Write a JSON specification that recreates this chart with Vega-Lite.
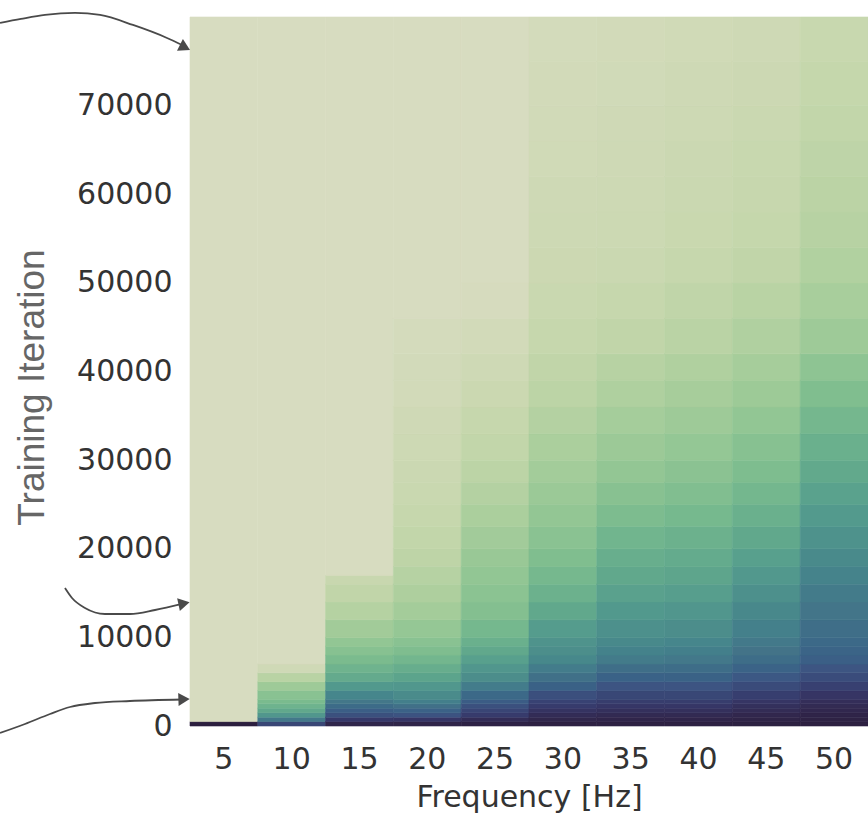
{
  "$schema": "https://vega.github.io/schema/vega-lite/v6.json",
  "width": 678,
  "height": 709,
  "autosize": {"type": "none"},
  "padding": {"left": 190, "top": 17, "right": 0, "bottom": 91},
  "background": "white",
  "config": {"view": {"stroke": null}},
  "datasets": {
    "heat": [
      {"f":5,"a":0,"b":500,"v":1.0},{"f":5,"a":500,"b":80000,"v":0},
      {"f":10,"a":0,"b":500,"v":0.85},{"f":10,"a":500,"b":1000,"v":0.68},{"f":10,"a":1000,"b":1500,"v":0.56},{"f":10,"a":1500,"b":2000,"v":0.49},{"f":10,"a":2000,"b":2500,"v":0.44},{"f":10,"a":2500,"b":3000,"v":0.4},{"f":10,"a":3000,"b":4000,"v":0.345},{"f":10,"a":4000,"b":5000,"v":0.265},{"f":10,"a":5000,"b":6000,"v":0.16},{"f":10,"a":6000,"b":7000,"v":0.05},{"f":10,"a":7000,"b":80000,"v":0},
      {"f":15,"a":0,"b":500,"v":0.97},{"f":15,"a":500,"b":1000,"v":0.9},{"f":15,"a":1000,"b":1500,"v":0.82},{"f":15,"a":1500,"b":2000,"v":0.775},{"f":15,"a":2000,"b":2500,"v":0.73},{"f":15,"a":2500,"b":3000,"v":0.685},{"f":15,"a":3000,"b":4000,"v":0.628},{"f":15,"a":4000,"b":5000,"v":0.554},{"f":15,"a":5000,"b":6000,"v":0.48},{"f":15,"a":6000,"b":7000,"v":0.438},{"f":15,"a":7000,"b":8000,"v":0.396},{"f":15,"a":8000,"b":9000,"v":0.354},{"f":15,"a":9000,"b":10000,"v":0.312},{"f":15,"a":10000,"b":12000,"v":0.253},{"f":15,"a":12000,"b":14000,"v":0.174},{"f":15,"a":14000,"b":16000,"v":0.125},{"f":15,"a":16000,"b":17000,"v":0.09},{"f":15,"a":17000,"b":80000,"v":0},
      {"f":20,"a":0,"b":500,"v":0.975},{"f":20,"a":500,"b":1000,"v":0.91},{"f":20,"a":1000,"b":1500,"v":0.81},{"f":20,"a":1500,"b":2000,"v":0.76},{"f":20,"a":2000,"b":2500,"v":0.71},{"f":20,"a":2500,"b":3000,"v":0.655},{"f":20,"a":3000,"b":4000,"v":0.61},{"f":20,"a":4000,"b":5000,"v":0.56},{"f":20,"a":5000,"b":6000,"v":0.51},{"f":20,"a":6000,"b":7000,"v":0.468},{"f":20,"a":7000,"b":8000,"v":0.425},{"f":20,"a":8000,"b":9000,"v":0.383},{"f":20,"a":9000,"b":10000,"v":0.345},{"f":20,"a":10000,"b":12000,"v":0.3},{"f":20,"a":12000,"b":14000,"v":0.243},{"f":20,"a":14000,"b":16000,"v":0.206},{"f":20,"a":16000,"b":18000,"v":0.17},{"f":20,"a":18000,"b":20000,"v":0.138},{"f":20,"a":20000,"b":22500,"v":0.12},{"f":20,"a":22500,"b":25000,"v":0.1},{"f":20,"a":25000,"b":27500,"v":0.082},{"f":20,"a":27500,"b":30000,"v":0.072},{"f":20,"a":30000,"b":33000,"v":0.062},{"f":20,"a":33000,"b":36000,"v":0.05},{"f":20,"a":36000,"b":39000,"v":0.035},{"f":20,"a":39000,"b":42000,"v":0.03},{"f":20,"a":42000,"b":46000,"v":0.02},{"f":20,"a":46000,"b":80000,"v":0},
      {"f":25,"a":0,"b":500,"v":0.985},{"f":25,"a":500,"b":1000,"v":0.945},{"f":25,"a":1000,"b":1500,"v":0.89},{"f":25,"a":1500,"b":2000,"v":0.855},{"f":25,"a":2000,"b":2500,"v":0.82},{"f":25,"a":2500,"b":3000,"v":0.78},{"f":25,"a":3000,"b":4000,"v":0.735},{"f":25,"a":4000,"b":5000,"v":0.665},{"f":25,"a":5000,"b":6000,"v":0.6},{"f":25,"a":6000,"b":7000,"v":0.563},{"f":25,"a":7000,"b":8000,"v":0.526},{"f":25,"a":8000,"b":9000,"v":0.49},{"f":25,"a":9000,"b":10000,"v":0.455},{"f":25,"a":10000,"b":12000,"v":0.415},{"f":25,"a":12000,"b":14000,"v":0.363},{"f":25,"a":14000,"b":16000,"v":0.336},{"f":25,"a":16000,"b":18000,"v":0.31},{"f":25,"a":18000,"b":20000,"v":0.285},{"f":25,"a":20000,"b":22500,"v":0.25},{"f":25,"a":22500,"b":25000,"v":0.215},{"f":25,"a":25000,"b":27500,"v":0.18},{"f":25,"a":27500,"b":30000,"v":0.145},{"f":25,"a":30000,"b":33000,"v":0.12},{"f":25,"a":33000,"b":36000,"v":0.1},{"f":25,"a":36000,"b":39000,"v":0.075},{"f":25,"a":39000,"b":42000,"v":0.055},{"f":25,"a":42000,"b":46000,"v":0.035},{"f":25,"a":46000,"b":50000,"v":0.01},{"f":25,"a":50000,"b":80000,"v":0},
      {"f":30,"a":0,"b":500,"v":0.99},{"f":30,"a":500,"b":1000,"v":0.967},{"f":30,"a":1000,"b":1500,"v":0.944},{"f":30,"a":1500,"b":2000,"v":0.918},{"f":30,"a":2000,"b":2500,"v":0.891},{"f":30,"a":2500,"b":3000,"v":0.865},{"f":30,"a":3000,"b":4000,"v":0.824},{"f":30,"a":4000,"b":5000,"v":0.766},{"f":30,"a":5000,"b":6000,"v":0.711},{"f":30,"a":6000,"b":7000,"v":0.667},{"f":30,"a":7000,"b":8000,"v":0.622},{"f":30,"a":8000,"b":9000,"v":0.597},{"f":30,"a":9000,"b":10000,"v":0.577},{"f":30,"a":10000,"b":12000,"v":0.54},{"f":30,"a":12000,"b":14000,"v":0.49},{"f":30,"a":14000,"b":16000,"v":0.448},{"f":30,"a":16000,"b":18000,"v":0.414},{"f":30,"a":18000,"b":20000,"v":0.379},{"f":30,"a":20000,"b":22500,"v":0.34},{"f":30,"a":22500,"b":25000,"v":0.307},{"f":30,"a":25000,"b":27500,"v":0.277},{"f":30,"a":27500,"b":30000,"v":0.247},{"f":30,"a":30000,"b":33000,"v":0.215},{"f":30,"a":33000,"b":36000,"v":0.18},{"f":30,"a":36000,"b":39000,"v":0.145},{"f":30,"a":39000,"b":42000,"v":0.125},{"f":30,"a":42000,"b":46000,"v":0.1},{"f":30,"a":46000,"b":50000,"v":0.085},{"f":30,"a":50000,"b":54000,"v":0.07},{"f":30,"a":54000,"b":58000,"v":0.062},{"f":30,"a":58000,"b":62000,"v":0.055},{"f":30,"a":62000,"b":66000,"v":0.047},{"f":30,"a":66000,"b":70000,"v":0.04},{"f":30,"a":70000,"b":75000,"v":0.033},{"f":30,"a":75000,"b":80000,"v":0.025},
      {"f":35,"a":0,"b":500,"v":0.99},{"f":35,"a":500,"b":1000,"v":0.973},{"f":35,"a":1000,"b":1500,"v":0.954},{"f":35,"a":1500,"b":2000,"v":0.931},{"f":35,"a":2000,"b":2500,"v":0.907},{"f":35,"a":2500,"b":3000,"v":0.884},{"f":35,"a":3000,"b":4000,"v":0.85},{"f":35,"a":4000,"b":5000,"v":0.805},{"f":35,"a":5000,"b":6000,"v":0.761},{"f":35,"a":6000,"b":7000,"v":0.717},{"f":35,"a":7000,"b":8000,"v":0.672},{"f":35,"a":8000,"b":9000,"v":0.645},{"f":35,"a":9000,"b":10000,"v":0.618},{"f":35,"a":10000,"b":12000,"v":0.589},{"f":35,"a":12000,"b":14000,"v":0.553},{"f":35,"a":14000,"b":16000,"v":0.52},{"f":35,"a":16000,"b":18000,"v":0.491},{"f":35,"a":18000,"b":20000,"v":0.462},{"f":35,"a":20000,"b":22500,"v":0.429},{"f":35,"a":22500,"b":25000,"v":0.39},{"f":35,"a":25000,"b":27500,"v":0.349},{"f":35,"a":27500,"b":30000,"v":0.309},{"f":35,"a":30000,"b":33000,"v":0.274},{"f":35,"a":33000,"b":36000,"v":0.238},{"f":35,"a":36000,"b":39000,"v":0.202},{"f":35,"a":39000,"b":42000,"v":0.166},{"f":35,"a":42000,"b":46000,"v":0.125},{"f":35,"a":46000,"b":50000,"v":0.101},{"f":35,"a":50000,"b":54000,"v":0.08},{"f":35,"a":54000,"b":58000,"v":0.067},{"f":35,"a":58000,"b":62000,"v":0.061},{"f":35,"a":62000,"b":66000,"v":0.055},{"f":35,"a":66000,"b":70000,"v":0.049},{"f":35,"a":70000,"b":75000,"v":0.042},{"f":35,"a":75000,"b":80000,"v":0.034},
      {"f":40,"a":0,"b":500,"v":0.99},{"f":40,"a":500,"b":1000,"v":0.973},{"f":40,"a":1000,"b":1500,"v":0.954},{"f":40,"a":1500,"b":2000,"v":0.931},{"f":40,"a":2000,"b":2500,"v":0.907},{"f":40,"a":2500,"b":3000,"v":0.884},{"f":40,"a":3000,"b":4000,"v":0.85},{"f":40,"a":4000,"b":5000,"v":0.805},{"f":40,"a":5000,"b":6000,"v":0.762},{"f":40,"a":6000,"b":7000,"v":0.722},{"f":40,"a":7000,"b":8000,"v":0.682},{"f":40,"a":8000,"b":9000,"v":0.655},{"f":40,"a":9000,"b":10000,"v":0.628},{"f":40,"a":10000,"b":12000,"v":0.599},{"f":40,"a":12000,"b":14000,"v":0.563},{"f":40,"a":14000,"b":16000,"v":0.531},{"f":40,"a":16000,"b":18000,"v":0.504},{"f":40,"a":18000,"b":20000,"v":0.478},{"f":40,"a":20000,"b":22500,"v":0.448},{"f":40,"a":22500,"b":25000,"v":0.412},{"f":40,"a":25000,"b":27500,"v":0.375},{"f":40,"a":27500,"b":30000,"v":0.338},{"f":40,"a":30000,"b":33000,"v":0.304},{"f":40,"a":33000,"b":36000,"v":0.268},{"f":40,"a":36000,"b":39000,"v":0.232},{"f":40,"a":39000,"b":42000,"v":0.196},{"f":40,"a":42000,"b":46000,"v":0.155},{"f":40,"a":46000,"b":50000,"v":0.127},{"f":40,"a":50000,"b":54000,"v":0.101},{"f":40,"a":54000,"b":58000,"v":0.086},{"f":40,"a":58000,"b":62000,"v":0.078},{"f":40,"a":62000,"b":66000,"v":0.071},{"f":40,"a":66000,"b":70000,"v":0.063},{"f":40,"a":70000,"b":75000,"v":0.054},{"f":40,"a":75000,"b":80000,"v":0.045},
      {"f":45,"a":0,"b":500,"v":0.993},{"f":45,"a":500,"b":1000,"v":0.98},{"f":45,"a":1000,"b":1500,"v":0.966},{"f":45,"a":1500,"b":2000,"v":0.947},{"f":45,"a":2000,"b":2500,"v":0.929},{"f":45,"a":2500,"b":3000,"v":0.911},{"f":45,"a":3000,"b":4000,"v":0.88},{"f":45,"a":4000,"b":5000,"v":0.835},{"f":45,"a":5000,"b":6000,"v":0.793},{"f":45,"a":6000,"b":7000,"v":0.757},{"f":45,"a":7000,"b":8000,"v":0.722},{"f":45,"a":8000,"b":9000,"v":0.699},{"f":45,"a":9000,"b":10000,"v":0.677},{"f":45,"a":10000,"b":12000,"v":0.651},{"f":45,"a":12000,"b":14000,"v":0.62},{"f":45,"a":14000,"b":16000,"v":0.589},{"f":45,"a":16000,"b":18000,"v":0.557},{"f":45,"a":18000,"b":20000,"v":0.525},{"f":45,"a":20000,"b":22500,"v":0.49},{"f":45,"a":22500,"b":25000,"v":0.455},{"f":45,"a":25000,"b":27500,"v":0.421},{"f":45,"a":27500,"b":30000,"v":0.387},{"f":45,"a":30000,"b":33000,"v":0.351},{"f":45,"a":33000,"b":36000,"v":0.311},{"f":45,"a":36000,"b":39000,"v":0.272},{"f":45,"a":39000,"b":42000,"v":0.236},{"f":45,"a":42000,"b":46000,"v":0.195},{"f":45,"a":46000,"b":50000,"v":0.159},{"f":45,"a":50000,"b":54000,"v":0.125},{"f":45,"a":54000,"b":58000,"v":0.105},{"f":45,"a":58000,"b":62000,"v":0.096},{"f":45,"a":62000,"b":66000,"v":0.087},{"f":45,"a":66000,"b":70000,"v":0.078},{"f":45,"a":70000,"b":75000,"v":0.068},{"f":45,"a":75000,"b":80000,"v":0.056},
      {"f":50,"a":0,"b":500,"v":0.996},{"f":50,"a":500,"b":1000,"v":0.987},{"f":50,"a":1000,"b":1500,"v":0.977},{"f":50,"a":1500,"b":2000,"v":0.964},{"f":50,"a":2000,"b":2500,"v":0.951},{"f":50,"a":2500,"b":3000,"v":0.938},{"f":50,"a":3000,"b":4000,"v":0.912},{"f":50,"a":4000,"b":5000,"v":0.872},{"f":50,"a":5000,"b":6000,"v":0.834},{"f":50,"a":6000,"b":7000,"v":0.803},{"f":50,"a":7000,"b":8000,"v":0.772},{"f":50,"a":8000,"b":9000,"v":0.753},{"f":50,"a":9000,"b":10000,"v":0.735},{"f":50,"a":10000,"b":12000,"v":0.717},{"f":50,"a":12000,"b":14000,"v":0.694},{"f":50,"a":14000,"b":16000,"v":0.67},{"f":50,"a":16000,"b":18000,"v":0.641},{"f":50,"a":18000,"b":20000,"v":0.612},{"f":50,"a":20000,"b":22500,"v":0.579},{"f":50,"a":22500,"b":25000,"v":0.547},{"f":50,"a":25000,"b":27500,"v":0.517},{"f":50,"a":27500,"b":30000,"v":0.487},{"f":50,"a":30000,"b":33000,"v":0.454},{"f":50,"a":33000,"b":36000,"v":0.418},{"f":50,"a":36000,"b":39000,"v":0.379},{"f":50,"a":39000,"b":42000,"v":0.327},{"f":50,"a":42000,"b":46000,"v":0.267},{"f":50,"a":46000,"b":50000,"v":0.227},{"f":50,"a":50000,"b":54000,"v":0.191},{"f":50,"a":54000,"b":58000,"v":0.167},{"f":50,"a":58000,"b":62000,"v":0.151},{"f":50,"a":62000,"b":66000,"v":0.136},{"f":50,"a":66000,"b":70000,"v":0.12},{"f":50,"a":70000,"b":75000,"v":0.105},{"f":50,"a":75000,"b":80000,"v":0.088}
    ],
    "arrows": [
      {"id":1,"u":-0.2802,"it":79327},{"id":1,"u":-0.2493,"it":79778},{"id":1,"u":-0.2139,"it":80229},{"id":1,"u":-0.1696,"it":80455},{"id":1,"u":-0.1327,"it":80229},{"id":1,"u":-0.0841,"it":79101},{"id":1,"u":-0.0339,"it":77634},{"id":1,"u":-0.0118,"it":76844},
      {"id":2,"u":-0.1844,"it":15572},{"id":2,"u":-0.174,"it":14444},{"id":2,"u":-0.1549,"it":13315},{"id":2,"u":-0.1254,"it":12638},{"id":2,"u":-0.0885,"it":12638},{"id":2,"u":-0.0516,"it":13089},{"id":2,"u":-0.0118,"it":13766},
      {"id":3,"u":-0.2802,"it":-790},{"id":3,"u":-0.2434,"it":226},{"id":3,"u":-0.2065,"it":1354},{"id":3,"u":-0.177,"it":2144},{"id":3,"u":-0.1401,"it":2595},{"id":3,"u":-0.0885,"it":2821},{"id":3,"u":-0.0118,"it":2990}
    ],
    "heads": [
      {"id":1,"u":-0.0074,"it":76563},
      {"id":2,"u":-0.0088,"it":13823},
      {"id":3,"u":-0.0088,"it":3013}
    ]
  },
  "layer": [
    {
      "data": {"name": "heat"},
      "mark": {"type": "rect", "strokeWidth": 0.6},
      "encoding": {
        "x": {
          "field": "f", "type": "ordinal",
          "scale": {"paddingInner": 0, "paddingOuter": 0},
          "axis": {
            "title": "Frequency [Hz]", "labelAngle": 0, "ticks": false, "domain": false,
            "labelFont": "DejaVu Sans", "labelFontSize": 30, "labelColor": "#333333", "labelPadding": 18,
            "titleFont": "DejaVu Sans", "titleFontSize": 30, "titleFontWeight": "normal", "titleColor": "#333333", "titlePadding": 8
          }
        },
        "y": {
          "field": "a", "type": "quantitative",
          "scale": {"domain": [0, 80000], "nice": false, "zero": false},
          "axis": {
            "title": "Training Iteration", "values": [0,10000,20000,30000,40000,50000,60000,70000],
            "ticks": false, "domain": false, "grid": false, "format": "d",
            "labelFont": "DejaVu Sans", "labelFontSize": 30, "labelColor": "#333333", "labelPadding": 18,
            "titleFont": "Liberation Sans", "titleFontSize": 37, "titleFontWeight": "normal", "titleColor": "#666666", "titlePadding": 25, "titleY": 370
          }
        },
        "y2": {"field": "b"},
        "color": {
          "field": "v", "type": "quantitative", "legend": null,
          "scale": {"domain": [0,0.1,0.2,0.3,0.4,0.5,0.6,0.7,0.8,0.9,1], "range": ["#d7dcc0","#c6d7ad","#afd09f","#95c795","#7abb8e","#5fa68c","#4c8d8b","#437388","#3d5683","#363869","#2c1f3f"]}
        },
        "stroke": {
          "field": "v", "type": "quantitative", "legend": null,
          "scale": {"domain": [0,0.1,0.2,0.3,0.4,0.5,0.6,0.7,0.8,0.9,1], "range": ["#d7dcc0","#c6d7ad","#afd09f","#95c795","#7abb8e","#5fa68c","#4c8d8b","#437388","#3d5683","#363869","#2c1f3f"]}
        }
      }
    },
    {
      "data": {"name": "arrows"},
      "mark": {"type": "line", "color": "#4a4a4a", "strokeWidth": 1.8, "interpolate": "monotone"},
      "encoding": {
        "x": {"field": "u", "type": "quantitative", "scale": {"domain": [0, 1], "nice": false, "zero": false}, "axis": null},
        "y": {"field": "it", "type": "quantitative", "axis": null},
        "detail": {"field": "id", "type": "nominal"}
      }
    },
    {
      "data": {"name": "heads"},
      "transform": [{"filter": {"field": "id", "equal": 1}}],
      "mark": {"type": "point", "shape": "triangle-right", "filled": true, "color": "#4a4a4a", "opacity": 1, "size": 170, "angle": 27},
      "encoding": {
        "x": {"field": "u", "type": "quantitative", "scale": {"domain": [0, 1], "nice": false, "zero": false}, "axis": null},
        "y": {"field": "it", "type": "quantitative", "axis": null}
      }
    },
    {
      "data": {"name": "heads"},
      "transform": [{"filter": {"field": "id", "equal": 2}}],
      "mark": {"type": "point", "shape": "triangle-right", "filled": true, "color": "#4a4a4a", "opacity": 1, "size": 170, "angle": -12},
      "encoding": {
        "x": {"field": "u", "type": "quantitative", "scale": {"domain": [0, 1], "nice": false, "zero": false}, "axis": null},
        "y": {"field": "it", "type": "quantitative", "axis": null}
      }
    },
    {
      "data": {"name": "heads"},
      "transform": [{"filter": {"field": "id", "equal": 3}}],
      "mark": {"type": "point", "shape": "triangle-right", "filled": true, "color": "#4a4a4a", "opacity": 1, "size": 170, "angle": -2},
      "encoding": {
        "x": {"field": "u", "type": "quantitative", "scale": {"domain": [0, 1], "nice": false, "zero": false}, "axis": null},
        "y": {"field": "it", "type": "quantitative", "axis": null}
      }
    }
  ],
  "resolve": {"scale": {"x": "independent"}, "axis": {"x": "independent", "y": "independent"}}
}
